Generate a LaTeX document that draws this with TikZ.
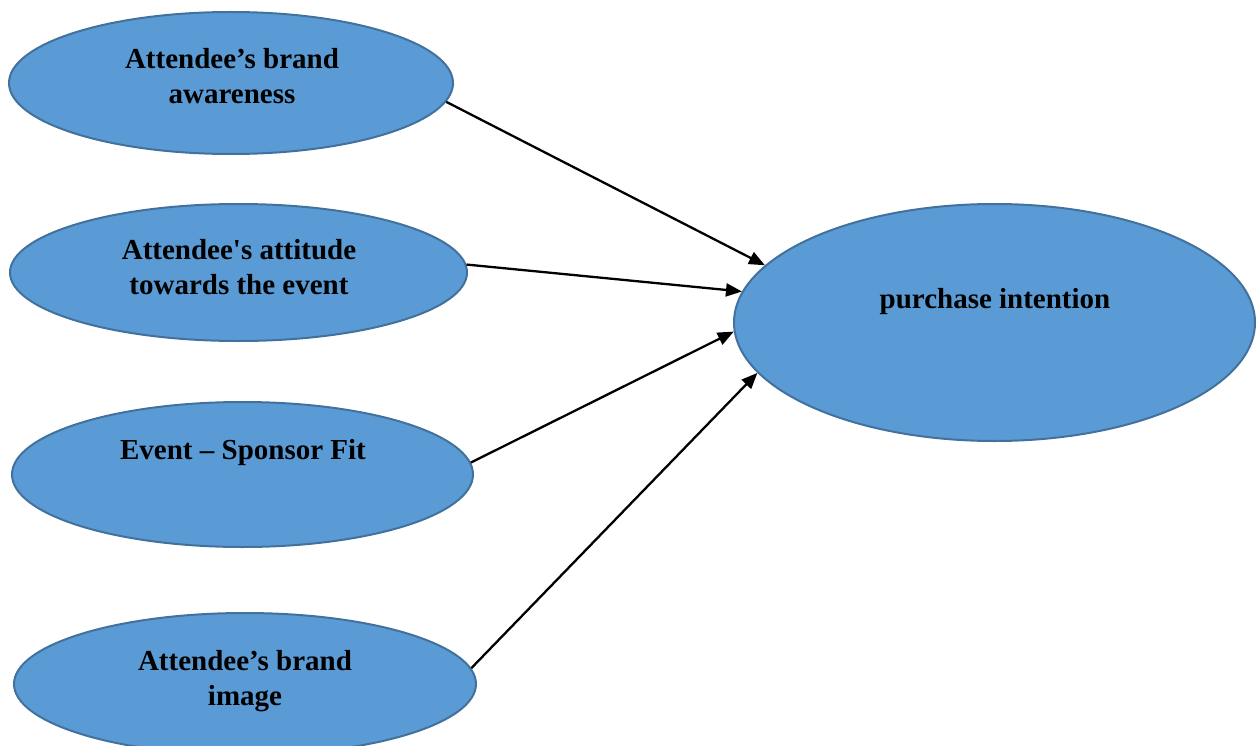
\documentclass[tikz,border=0pt]{standalone}
\usepackage{fontspec}
\setmainfont{Liberation Serif}
\usetikzlibrary{shapes.geometric,arrows.meta}
\definecolor{bubble}{HTML}{5B9BD5}
\definecolor{bubbleline}{HTML}{41719C}
\begin{document}
\begin{tikzpicture}[x=1pt,y=-1pt,
  construct/.style={ellipse, draw=bubbleline, line width=2pt, fill=bubble, inner sep=0pt},
  caption/.style={align=center, inner sep=0pt, font=\fontsize{29}{35}\selectfont\bfseries},
  link/.style={line width=2.3pt, -{Triangle[length=16pt,width=13pt]}}]
\useasboundingbox (0,0) rectangle (1260,746);

% predictor constructs
\node[construct, minimum width=444pt, minimum height=142pt] (e1) at (231,83) {};
\node[construct, minimum width=457pt, minimum height=137pt] (e2) at (238.5,272.5) {};
\node[construct, minimum width=461pt, minimum height=145pt] (e3) at (242.5,474.5) {};
\node[construct, minimum width=462pt, minimum height=142pt] (e4) at (245,684) {};
% outcome construct
\node[construct, minimum width=521pt, minimum height=237pt] (e5) at (994.5,322.5) {};

\node[caption] (t1) at (232,76) {Attendee’s brand\\awareness};
\node[caption] (t2) at (239,267) {Attendee\textquotesingle s attitude\\towards the event};
\node[caption] (t3) at (243,453) {Event – Sponsor Fit};
\node[caption] (t4) at (245,681) {Attendee’s brand\\image};
\node[caption] (t5) at (995,302) {purchase intention};

% hypothesised effects
\draw[link] (e1.-5.6) -- (e5.166.6);
\draw[link] (e2.2.1) -- (e5.173.5);
\draw[link] (e3.3.4) -- (e5.182.7);
\draw[link] (e4.4.0) -- (e5.192.7);
\end{tikzpicture}
\end{document}
